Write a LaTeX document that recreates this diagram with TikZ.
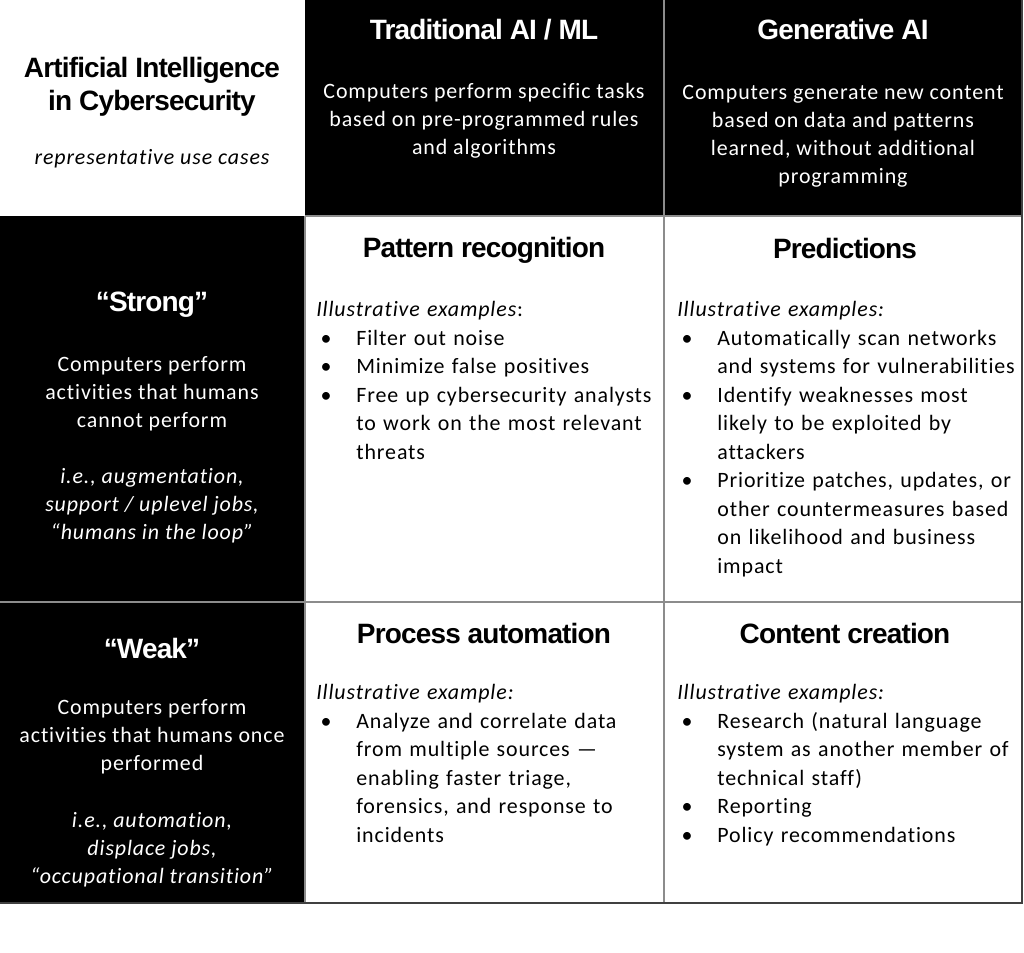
\documentclass[tikz,border=0pt]{standalone}
\usepackage{fontspec}
\setmainfont[LetterSpace=4,Ligatures=NoCommon]{Carlito}
\newfontfamily\headfont[LetterSpace=-3]{Liberation Sans}
\definecolor{gridgray}{gray}{0.55}
\definecolor{edgegray}{gray}{0.25}
\tikzset{
    head/.style={font=\headfont\bfseries\fontsize{19.9}{23.5}\selectfont,align=center},
    body/.style={font=\fontsize{15.6}{19.9}\selectfont,align=center},
    eg/.style={font=\fontsize{15.6}{19.9}\selectfont\itshape,align=center},
    list/.style={font=\fontsize{15.6}{20.3}\selectfont,align=left,text width=270pt,anchor=north west,inner sep=0pt},
    gridline/.style={draw=gridgray,line width=1.4pt}
}
\newcommand\cell[5]{
    \fill[#5] (#1,#2) rectangle (#3,#4);
}
\newcommand\bul{\par\noindent\hangindent=28.5pt\hbox to 28.5pt{\hspace{3pt}\textbullet\hfil}}

\begin{document}
\begin{tikzpicture}[x=0.025cm,y=-0.025cm]
            \useasboundingbox (0,0) rectangle (1024,952);
            \cell{305}{0}{1022}{216}{black}
            \cell{0}{216}{305}{903}{black}
            \draw[gridline] (664,0) -- (664,903);
            \draw[gridline] (305,216) -- (1022,216);
            \draw[gridline] (0,602) -- (1022,602);
            \draw[gridline] (305,216) -- (305,903);
            \draw[edgegray,line width=1.4pt] (1022,0) -- (1022,903) -- (0,903);
            % header row
            \node[head] (title) at (152,87) {Artificial Intelligence\\in Cybersecurity};
            \node[eg] (usecases) at (152,159) {representative use cases};
            \node[head,text=white] (trad) at (484,30) {Traditional AI / ML};
            \node[body,text=white] (tradtext) at (484,121) {Computers perform specific tasks\\based on pre-programmed rules\\and algorithms};
            \node[head,text=white] (gen) at (843,30) {Generative AI};
            \node[body,text=white] (gentext) at (843,136) {Computers generate new content\\based on data and patterns\\learned, without additional\\programming};
            % strong row
            \node[head,text=white] (strong) at (152,305) {“Strong”};
            \node[body,text=white] (strongtext) at (152,394) {Computers perform\\activities that humans\\cannot perform};
            \node[eg,text=white] (strongeg) at (152,506) {i.e., augmentation,\\support / uplevel jobs,\\“humans in the loop”};
            \node[head] (pattern) at (484,250) {Pattern recognition};
            \node[list] (patternlist) at (316,301) {\noindent\textit{Illustrative examples}:
                \bul Filter out noise
                \bul Minimize false positives
                \bul Free up cybersecurity analysts\newline to work on the most relevant\newline threats\par};
            \node[head] (predict) at (845,248) {Predictions};
            \node[list] (predictlist) at (677,301) {\noindent\textit{Illustrative examples:}
                \bul Automatically scan networks\newline and systems for vulnerabilities
                \bul Identify weaknesses most\newline likely to be exploited by\newline attackers
                \bul Prioritize patches, updates, or\newline other countermeasures based\newline on likelihood and business\newline impact\par};
            % weak row
            \node[head,text=white] (weak) at (152,648) {“Weak”};
            \node[body,text=white] (weaktext) at (152,737) {Computers perform\\activities that humans once\\performed};
            \node[eg,text=white] (weakeg) at (152,850) {i.e., automation,\\displace jobs,\\“occupational transition”};
            \node[head] (process) at (484,633) {Process automation};
            \node[list] (processlist) at (316,684) {\noindent\textit{Illustrative example:}
                \bul Analyze and correlate data\newline from multiple sources —\newline enabling faster triage,\newline forensics, and response to\newline incidents\par};
            \node[head] (content) at (845,633) {Content creation};
            \node[list] (contentlist) at (677,684) {\noindent\textit{Illustrative examples:}
                \bul Research (natural language\newline system as another member of\newline technical staff)
                \bul Reporting
                \bul Policy recommendations\par};
        \end{tikzpicture}
\end{document}
